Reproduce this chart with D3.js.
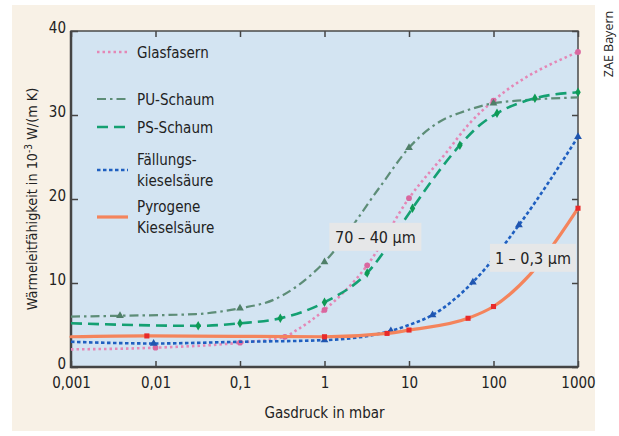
<!DOCTYPE html>
<html>
<head>
<meta charset="utf-8">
<script src="https://cdn.jsdelivr.net/npm/d3@7"></script>
<style>
  body { margin: 0; background: #fff; }
  svg { display: block; }
  text { font-family: "Liberation Sans Narrow", "DejaVu Sans Condensed", "Roboto Condensed", sans-serif; fill: #222; }
</style>
</head>
<body>
<svg width="619" height="436"></svg>
<script>
// ticks
var xTicks = [0.001, 0.01, 0.1, 1, 10, 100, 1000]
var xTickLabels = ['0,001', '0,01', '0,1', '1', '10', '100', '1000']
var yTicks = [0, 10, 20, 30, 40]

// Glasfasern
var glasX = [0.001, 0.01, 0.1, 0.34, 0.47, 1, 3.2, 10, 28, 52, 100, 1000]
var glasY = [2.1, 2.3, 2.9, 3.6, 4.4, 6.8, 12.1, 20.1, 25.6, 29.0, 31.7, 37.5]
var glasMark = [0, 1, 1, 1, 0, 1, 1, 1, 0, 0, 1, 1]

// PU-Schaum
var puX = [0.001, 0.0038, 0.03, 0.1, 0.25, 0.5, 1, 4.5, 10, 23, 44, 100, 190, 1000]
var puY = [6.0, 6.1, 6.3, 7.0, 8.0, 9.8, 12.5, 21.4, 26.1, 29.2, 30.4, 31.4, 31.7, 32.1]
var puMark = [0, 1, 0, 1, 0, 0, 1, 0, 1, 0, 0, 1, 0, 0]

// PS-Schaum
var psX = [0.001, 0.032, 0.1, 0.3, 1, 3.2, 11, 20, 40, 69, 110, 309, 1000]
var psY = [5.2, 4.9, 5.2, 5.8, 7.7, 11.2, 18.9, 22.6, 26.4, 28.8, 30.2, 32.0, 32.7]
var psMark = [0, 1, 1, 1, 1, 1, 1, 0, 1, 0, 1, 1, 1]

// Fällungskieselsäure
var fkX = [0.001, 0.0095, 0.1, 1, 6.1, 10, 19, 57, 200, 1000]
var fkY = [3.0, 2.8, 3.0, 3.2, 4.3, 5.0, 6.2, 10.1, 16.9, 27.4]
var fkMark = [0, 1, 0, 1, 1, 0, 1, 1, 1, 1]

// Pyrogene Kieselsäure
var pkX = [0.001, 0.0079, 1, 5.5, 10, 50, 100, 270, 1000]
var pkY = [3.6, 3.7, 3.6, 4.0, 4.4, 5.8, 7.2, 11.0, 18.9]
var pkMark = [0, 1, 1, 1, 1, 1, 1, 0, 1]

var series = [
  {name: ['Glasfasern'], xs: glasX, ys: glasY, mk: glasMark, color: '#e487b6', dash: '2.5,3', width: 2.6, shape: d3.symbolCircle, mcolor: '#d9679f', legendY: 52},
  {name: ['PU-Schaum'], xs: puX, ys: puY, mk: puMark, color: '#5d8d77', dash: '9,4,2.5,4', width: 2.2, shape: d3.symbolTriangle, mcolor: '#4f7f68', legendY: 99},
  {name: ['PS-Schaum'], xs: psX, ys: psY, mk: psMark, color: '#14a072', dash: '11,6', width: 2.6, shape: d3.symbolDiamond, mcolor: '#0e9a55', legendY: 127},
  {name: ['Fällungs-', 'kieselsäure'], xs: fkX, ys: fkY, mk: fkMark, color: '#1f5fc0', dash: '3.5,2.5', width: 2.6, shape: d3.symbolTriangle, mcolor: '#1f55b0', legendY: 170},
  {name: ['Pyrogene', 'Kieselsäure'], xs: pkX, ys: pkY, mk: pkMark, color: '#f4845c', dash: null, width: 3.2, shape: d3.symbolSquare, mcolor: '#e82a2a', legendY: 217}
]

var svg = d3.select('svg')

// background panels
svg.append('rect').attr('x', 12).attr('y', 5).attr('width', 583).attr('height', 426).attr('fill', '#f8f1e6')

var x = d3.scaleLog().domain([0.001, 1000]).range([71, 578])
var y = d3.scaleLinear().domain([0, 40]).range([367, 31])

svg.append('rect')
  .attr('x', x(0.001)).attr('y', y(40))
  .attr('width', x(1000) - x(0.001)).attr('height', y(0) - y(40))
  .attr('fill', '#d3e4f2')

// axes
var fmt = function(d){ return xTickLabels[xTicks.indexOf(d)] }

svg.append('g').attr('transform', 'translate(0,' + y(0) + ')')
  .call(d3.axisBottom(x).tickValues(xTicks).tickFormat(fmt).tickSize(-6).tickPadding(10))
var gy = svg.append('g').attr('transform', 'translate(' + x(0.001) + ',0)')
  .call(d3.axisLeft(y).tickValues(yTicks).tickSize(-7).tickPadding(5))
gy.selectAll('.tick text').attr('dy', '0.1em')
svg.append('g').attr('transform', 'translate(0,' + y(40) + ')')
  .call(d3.axisTop(x).tickValues(xTicks).tickFormat('').tickSize(-6))
svg.append('g').attr('transform', 'translate(' + x(1000) + ',0)')
  .call(d3.axisRight(y).tickValues(yTicks).tickFormat('').tickSize(-6))

svg.selectAll('.domain').remove()
svg.selectAll('.tick line').attr('stroke', '#444').attr('stroke-width', 1.5)
svg.selectAll('.tick text').style('font-size', '15px').attr('fill', '#222')

// frame
svg.append('rect')
  .attr('x', x(0.001)).attr('y', y(40))
  .attr('width', x(1000) - x(0.001)).attr('height', y(0) - y(40))
  .attr('fill', 'none').attr('stroke', '#4a4a4a').attr('stroke-width', 1.5)
svg.append('path')
  .attr('d', 'M' + x(0.001) + ',' + y(40) + 'V' + y(0) + 'H' + x(1000))
  .attr('fill', 'none').attr('stroke', '#444').attr('stroke-width', 2.5)

// curves
var line = d3.line()
  .x(function(d){ return x(d[0]) })
  .y(function(d){ return y(d[1]) })
  .curve(d3.curveMonotoneX)

series.forEach(function(s){
  var pts = s.xs.map(function(v, i){ return [v, s.ys[i], s.mk[i]] })
  svg.append('path')
    .datum(pts)
    .attr('d', line)
    .attr('fill', 'none')
    .attr('stroke', s.color)
    .attr('stroke-width', s.width)
    .attr('stroke-dasharray', s.dash)
    .attr('stroke-linecap', s.dash ? 'butt' : 'round')
  svg.selectAll(null)
    .data(pts.filter(function(p){ return p[2] }))
    .join('path')
    .attr('d', d3.symbol().type(s.shape).size(26))
    .attr('transform', function(p){ return 'translate(' + x(p[0]) + ',' + y(p[1]) + ')' })
    .attr('fill', s.mcolor)
})

// legend
series.forEach(function(s){
  svg.append('line')
    .attr('x1', 97).attr('x2', 128)
    .attr('y1', s.legendY).attr('y2', s.legendY)
    .attr('stroke', s.color)
    .attr('stroke-width', s.width)
    .attr('stroke-dasharray', s.dash)
  var t = svg.append('text')
    .attr('x', 137)
    .attr('y', s.legendY - (s.name.length - 1) * 10.5 + 5.5)
    .style('font-size', '15px')
  s.name.forEach(function(n, i){
    t.append('tspan').attr('x', 137).attr('dy', i ? 21 : 0).text(n)
  })
})

// annotation boxes
function note(xv, yv, label, w){
  var cx = x(xv), cy = y(yv)
  svg.append('rect')
    .attr('x', cx - w / 2).attr('y', cy - 14)
    .attr('width', w).attr('height', 28)
    .attr('fill', '#e6e7e8')
  svg.append('text')
    .attr('x', cx).attr('y', cy + 6)
    .attr('text-anchor', 'middle')
    .style('font-size', '16px')
    .text(label)
}
note(4, 15.5, '70 – 40 µm', 92)
note(293, 13.0, '1 – 0,3 µm', 86)

// axis titles
svg.append('text')
  .attr('x', (x(0.001) + x(1000)) / 2).attr('y', 418)
  .attr('text-anchor', 'middle')
  .style('font-size', '15px')
  .text('Gasdruck in mbar')

var yt = svg.append('text')
  .attr('transform', 'translate(37,' + (y(0) + y(40)) / 2 + ') rotate(-90)')
  .attr('text-anchor', 'middle')
  .style('font-size', '14.3px')
yt.append('tspan').text('Wärmeleitfähigkeit in 10')
yt.append('tspan').attr('dy', -5).style('font-size', '10px').text('-3')
yt.append('tspan').attr('dy', 5).text(' W/(m K)')

svg.append('text')
  .attr('transform', 'translate(613,44) rotate(-90)')
  .attr('text-anchor', 'middle')
  .style('font-family', '"Open Sans", "Noto Sans", sans-serif')
  .style('font-size', '12.5px')
  .attr('fill', '#333')
  .text('ZAE Bayern')
</script>
</body>
</html>
